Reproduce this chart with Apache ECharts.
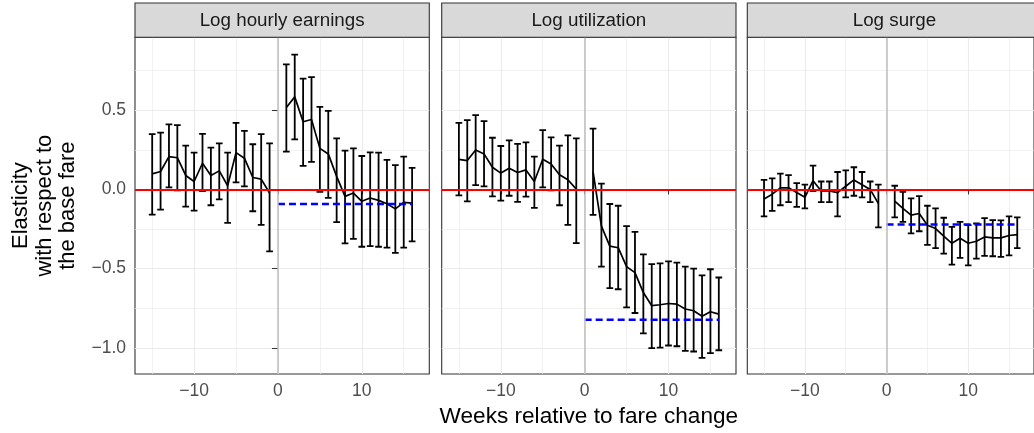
<!DOCTYPE html>
<html><head><meta charset="utf-8">
<script src="https://cdn.jsdelivr.net/npm/echarts@6/dist/echarts.min.js"></script>
<style>html,body{margin:0;padding:0;background:#fff}#c{width:1034px;height:433px}</style>
</head><body><div id="c"></div><script>
// ---------- data ----------
const panelTitles = ['Log hourly earnings', 'Log utilization', 'Log surge'];
const weeksPre  = [-15,-14,-13,-12,-11,-10,-9,-8,-7,-6,-5,-4,-3,-2,-1];
const weeksPost = [1,2,3,4,5,6,7,8,9,10,11,12,13,14,15,16];
const xTicks = [-10, 0, 10];
const xMinorTicks = [-15, -5, 5, 15];
const yTicks = [-1, -0.5, 0, 0.5];
const yMinorTicks = [-0.75, -0.25, 0.25, 0.75];

// Log hourly earnings
const earnPreEst = [0.098,0.113,0.207,0.200,0.088,0.050,0.165,0.088,0.117,0.023,0.232,0.197,0.075,0.065,-0.023];
const earnPreHi  = [0.349,0.358,0.410,0.406,0.276,0.232,0.351,0.264,0.290,0.232,0.420,0.370,0.285,0.349,0.290];
const earnPreLo  = [-0.159,-0.128,0.013,-0.006,-0.109,-0.134,-0.010,-0.100,-0.063,-0.211,0.044,0.019,-0.138,-0.224,-0.391];
const earnPostEst = [0.517,0.584,0.427,0.441,0.259,0.224,0.082,-0.044,-0.023,-0.075,-0.054,-0.069,-0.090,-0.123,-0.082,-0.086];
const earnPostHi  = [0.789,0.851,0.699,0.709,0.521,0.496,0.322,0.245,0.259,0.211,0.234,0.232,0.186,0.153,0.207,0.136];
const earnPostLo  = [0.238,0.316,0.149,0.174,-0.015,-0.054,-0.207,-0.341,-0.312,-0.362,-0.358,-0.362,-0.368,-0.400,-0.368,-0.328];
const earnMean = -0.092;

// Log utilization
const utilPreEst = [0.190,0.182,0.249,0.224,0.140,0.103,0.134,0.107,0.123,0.050,0.190,0.161,0.092,0.061,0.002];
const utilPreHi  = [0.420,0.437,0.469,0.431,0.326,0.274,0.310,0.287,0.297,0.207,0.374,0.328,0.276,0.341,0.322];
const utilPreLo  = [-0.038,-0.075,0.027,0.019,-0.044,-0.071,-0.040,-0.079,-0.046,-0.117,0.013,-0.006,-0.100,-0.224,-0.339];
const utilPostEst = [0.113,-0.232,-0.358,-0.368,-0.487,-0.525,-0.651,-0.734,-0.728,-0.720,-0.724,-0.755,-0.766,-0.801,-0.772,-0.787];
const utilPostHi  = [0.383,0.036,-0.092,-0.103,-0.232,-0.268,-0.410,-0.471,-0.467,-0.454,-0.462,-0.487,-0.500,-0.542,-0.504,-0.556];
const utilPostLo  = [-0.161,-0.487,-0.623,-0.630,-0.745,-0.780,-0.908,-1.002,-0.998,-0.985,-0.990,-1.019,-1.023,-1.063,-1.033,-1.015];
const utilMean = -0.822;

// Log surge
const surgePreEst = [-0.060,-0.030,0.010,0.010,-0.020,-0.050,0.055,-0.010,-0.010,-0.020,0.020,0.060,0.030,0.000,-0.090];
const surgePreHi  = [0.060,0.070,0.100,0.090,0.040,0.030,0.150,0.050,0.050,0.110,0.120,0.140,0.110,0.050,0.030];
const surgePreLo  = [-0.170,-0.135,-0.100,-0.080,-0.110,-0.120,-0.010,-0.080,-0.080,-0.170,-0.050,-0.040,-0.050,-0.080,-0.240];
const surgePostEst = [-0.074,-0.120,-0.162,-0.152,-0.226,-0.247,-0.295,-0.340,-0.308,-0.340,-0.327,-0.300,-0.306,-0.306,-0.291,-0.285];
const surgePostHi  = [0.023,-0.015,-0.057,-0.042,-0.103,-0.120,-0.179,-0.236,-0.205,-0.226,-0.215,-0.181,-0.194,-0.196,-0.170,-0.177];
const surgePostLo  = [-0.177,-0.205,-0.278,-0.264,-0.350,-0.371,-0.405,-0.475,-0.432,-0.479,-0.437,-0.420,-0.422,-0.426,-0.416,-0.370];
const surgeMean = -0.221;

// ---------- layout / style ----------
const X_MIN = -17.05, X_MAX = 18.05, Y_MIN = -1.165, Y_MAX = 0.96;
const GL = [135, 441.7, 747.3], GW = 294.3, GT = 37.3, GH = 336.7, STRIP_T = 3;
const CAP_W = 0.8;
const FONT = '"Liberation Sans", Arial, sans-serif';

const panels = [
  {pe: earnPreEst, ph: earnPreHi, pl: earnPreLo, qe: earnPostEst, qh: earnPostHi, ql: earnPostLo, m: earnMean},
  {pe: utilPreEst, ph: utilPreHi, pl: utilPreLo, qe: utilPostEst, qh: utilPostHi, ql: utilPostLo, m: utilMean},
  {pe: surgePreEst, ph: surgePreHi, pl: surgePreLo, qe: surgePostEst, qh: surgePostHi, ql: surgePostLo, m: surgeMean}
];

const fmtX = v => (v < 0 ? '\u2212' : '') + Math.abs(v);
const fmtY = v => (v < 0 ? '\u2212' : '') + Math.abs(v).toFixed(1);

const grid = [], xAxis = [], yAxis = [], series = [], graphic = [];
panels.forEach((p, i) => {
  grid.push({left: GL[i], top: GT, width: GW, height: GH, show: true,
    backgroundColor: '#fff', borderColor: '#333333', borderWidth: 1.1, containLabel: false});
  // major x
  xAxis.push({gridIndex: i, type: 'value', min: X_MIN, max: X_MAX,
    axisLine: {show: false},
    axisTick: {show: true, customValues: xTicks, length: 5, lineStyle: {color: '#333333', width: 1}},
    axisLabel: {show: true, customValues: xTicks, formatter: fmtX, fontSize: 17.5, lineHeight: 17,
      fontFamily: FONT, color: '#4d4d4d', margin: 9},
    splitLine: {show: true, lineStyle: {color: '#ebebeb', width: 1.1}}});
  // minor x
  xAxis.push({gridIndex: i, type: 'value', min: X_MIN, max: X_MAX, position: 'top',
    axisLine: {show: false}, axisTick: {show: false, customValues: xMinorTicks},
    axisLabel: {show: false, customValues: xMinorTicks},
    splitLine: {show: true, lineStyle: {color: '#ebebeb', width: 0.7}}});
  // major y
  yAxis.push({gridIndex: i, type: 'value', min: Y_MIN, max: Y_MAX,
    axisLine: {show: false},
    axisTick: {show: i === 0, customValues: yTicks, length: 6, lineStyle: {color: '#333333', width: 1}},
    axisLabel: {show: i === 0, customValues: yTicks, formatter: fmtY, fontSize: 17.5, lineHeight: 17,
      fontFamily: FONT, color: '#4d4d4d', margin: 9},
    splitLine: {show: true, lineStyle: {color: '#ebebeb', width: 1.1}}});
  // minor y
  yAxis.push({gridIndex: i, type: 'value', min: Y_MIN, max: Y_MAX, position: 'right',
    axisLine: {show: false}, axisTick: {show: false, customValues: yMinorTicks},
    axisLabel: {show: false, customValues: yMinorTicks},
    splitLine: {show: true, lineStyle: {color: '#ebebeb', width: 0.7}}});

  const xi = 2 * i, yi = 2 * i;
  // vertical reference line at 0
  series.push({type: 'line', xAxisIndex: xi, yAxisIndex: yi, data: [], z: 1, silent: true,
    markLine: {silent: true, symbol: ['none', 'none'], label: {show: false}, animation: false,
      lineStyle: {color: '#bebebe', width: 1.5, type: 'solid'}, data: [{xAxis: 0}]}});
  // error bars
  const ebData = weeksPre.map((w, k) => [w, p.pl[k], p.ph[k]])
    .concat(weeksPost.map((w, k) => [w, p.ql[k], p.qh[k]]));
  series.push({type: 'custom', xAxisIndex: xi, yAxisIndex: yi, z: 2, data: ebData,
    encode: {x: 0, y: [1, 2]}, clip: true,
    renderItem: (params, api) => {
      const x = api.value(0), lo = api.value(1), hi = api.value(2);
      const a = api.coord([x, lo]), b = api.coord([x, hi]);
      const hw = api.size([CAP_W, 0])[0] / 2;
      const st = {stroke: '#000', lineWidth: 1.8, fill: null};
      return {type: 'group', children: [
        {type: 'line', shape: {x1: a[0], y1: a[1], x2: b[0], y2: b[1]}, style: st},
        {type: 'line', shape: {x1: b[0] - hw, y1: b[1], x2: b[0] + hw, y2: b[1]}, style: st},
        {type: 'line', shape: {x1: a[0] - hw, y1: a[1], x2: a[0] + hw, y2: a[1]}, style: st}
      ]};
    }});
  // estimate lines
  series.push({type: 'line', xAxisIndex: xi, yAxisIndex: yi, z: 2, symbol: 'none',
    data: weeksPre.map((w, k) => [w, p.pe[k]]), lineStyle: {color: '#000', width: 1.7}});
  series.push({type: 'line', xAxisIndex: xi, yAxisIndex: yi, z: 2, symbol: 'none',
    data: weeksPost.map((w, k) => [w, p.qe[k]]), lineStyle: {color: '#000', width: 1.7}});
  // zero line
  series.push({type: 'line', xAxisIndex: xi, yAxisIndex: yi, data: [], z: 3, silent: true,
    markLine: {silent: true, symbol: ['none', 'none'], label: {show: false}, animation: false,
      lineStyle: {color: '#ff0000', width: 1.8, type: 'solid'}, data: [{yAxis: 0}]}});
  // post mean dashed
  series.push({type: 'line', xAxisIndex: xi, yAxisIndex: yi, z: 4, symbol: 'none',
    data: [[0, p.m], [weeksPost[weeksPost.length - 1], p.m]],
    lineStyle: {color: '#0000ff', width: 2.5, type: [7, 4]}});

  // strip
  graphic.push({type: 'rect', shape: {x: GL[i], y: STRIP_T, width: GW, height: GT - STRIP_T},
    style: {fill: '#d9d9d9', stroke: '#333333', lineWidth: 1.1}, z: 10});
  graphic.push({type: 'text', x: GL[i] + GW / 2, y: (STRIP_T + GT) / 2 + 0.5, z: 11,
    style: {text: panelTitles[i], fontSize: 18.8, fontFamily: FONT, fill: '#1a1a1a',
      align: 'center', verticalAlign: 'middle'}});
});

graphic.push({type: 'text', x: GL[1] + GW / 2, y: 417, z: 11,
  style: {text: 'Weeks relative to fare change', fontSize: 22.6, fontFamily: FONT, fill: '#000',
    align: 'center', verticalAlign: 'middle'}});
graphic.push({type: 'text', x: 44.5, y: GT + GH / 2, rotation: Math.PI / 2, z: 11,
  style: {text: 'Elasticity\nwith respect to\nthe base fare', fontSize: 22, lineHeight: 23.5,
    fontFamily: FONT, fill: '#000', align: 'center', verticalAlign: 'middle'}});

const chart = echarts.init(document.getElementById('c'), null, {renderer: 'canvas'});
chart.setOption({animation: false, backgroundColor: '#fff', grid, xAxis, yAxis, series, graphic});
</script></body></html>
